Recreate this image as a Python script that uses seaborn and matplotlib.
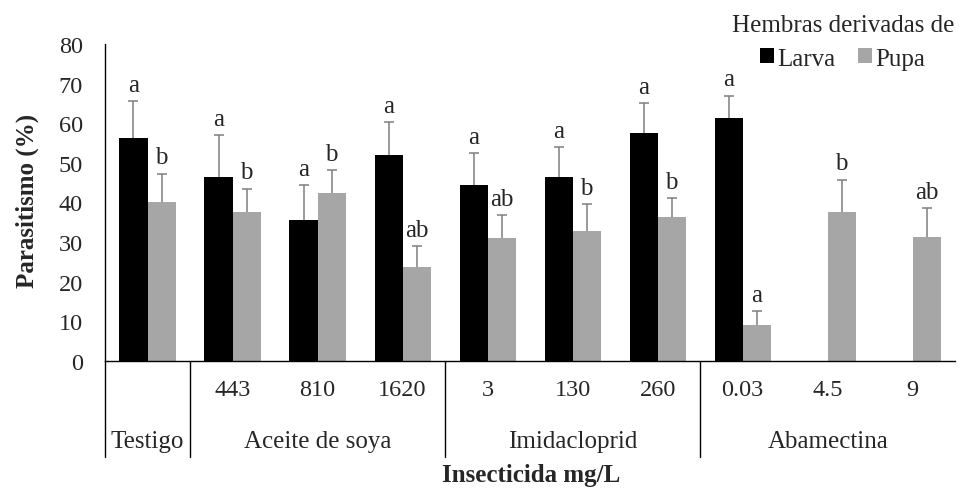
import numpy as np
import pandas as pd
import matplotlib
matplotlib.use("Agg")
import matplotlib.pyplot as plt
import matplotlib.transforms as mtransforms
from matplotlib.patches import Patch
import seaborn as sns

# ---------------- data ----------------
categories = ["Testigo", "443", "810", "1620", "3", "130", "260", "0.03", "4.5", "9"]
tick_labels = ["", "443", "810", "1620", "3", "130", "260", "0.03", "4.5", "9"]
groups = ["Testigo", "Aceite de soya", "Imidacloprid", "Abamectina"]
group_sizes = [1, 3, 3, 3]

larva_mean = [56.4, 46.4, 35.6, 52.0, 44.5, 46.4, 57.6, 61.3, np.nan, np.nan]
larva_err = [9.2, 10.7, 8.9, 8.4, 8.0, 7.5, 7.4, 5.7, np.nan, np.nan]
larva_letters = ["a", "a", "a", "a", "a", "a", "a", "a", "", ""]

pupa_mean = [40.2, 37.6, 42.5, 23.6, 31.0, 32.7, 36.4, 9.2, 37.6, 31.2]
pupa_err = [7.1, 5.9, 5.6, 5.3, 5.9, 6.9, 4.8, 3.3, 8.2, 7.4]
pupa_letters = ["b", "b", "b", "ab", "ab", "b", "b", "a", "b", "ab"]

series = ["Larva", "Pupa"]
colors = {"Larva": "#000000", "Pupa": "#A6A6A6"}

df = pd.DataFrame({
    "Insecticida": categories * 2,
    "Serie": ["Larva"] * len(categories) + ["Pupa"] * len(categories),
    "Valor": larva_mean + pupa_mean,
    "Err": larva_err + pupa_err,
    "Letra": larva_letters + pupa_letters,
})

# ---------------- plot ----------------
sns.set_style("white")
plt.rcParams["font.family"] = ["Liberation Serif", "DejaVu Serif"]

fig = plt.figure(figsize=(9.59, 4.89), dpi=100)
ax = fig.add_axes([0.1095, 0.2597, 0.8865, 0.6483])

plot_df = df.dropna(subset=["Valor"])
sns.barplot(data=plot_df, x="Insecticida", y="Valor", hue="Serie",
            order=categories, hue_order=series, palette=colors,
            width=0.66, errorbar=None, saturation=1, ax=ax, legend=False,
            linewidth=0, edgecolor="none")

ecol = "#7F7F7F"
# error bars (upper only) and letters
for cont, s in zip(ax.containers, series):
    sub = df[df["Serie"] == s].set_index("Insecticida")
    for bar in cont:
        xc = bar.get_x() + bar.get_width() / 2
        cat = categories[int(round(xc))]
        row = sub.loc[cat]
        if np.isnan(row["Valor"]):
            continue
        top = row["Valor"] + row["Err"]
        ax.plot([xc, xc], [row["Valor"], top], color=ecol, linewidth=1.1,
                solid_capstyle="butt")
        ax.plot([xc], [top], marker="_", markersize=7, markeredgewidth=1.1,
                color=ecol)
        ax.text(xc, top + 1.3, row["Letra"], ha="center", va="bottom",
                fontsize=18)

ax.set_ylim(0, 80)
ax.set_xlim(-0.5, len(categories) - 0.5)
ax.set_yticks(np.arange(0, 81, 10))
ax.tick_params(axis="y", length=0, labelsize=17.5, pad=16)
ax.set_xticks(range(len(categories)))
ax.set_xticklabels(tick_labels, fontsize=17.5)
ax.tick_params(axis="x", length=0, pad=13)
ax.set_xlabel("")
ax.set_ylabel("")

for side in ["top", "right"]:
    ax.spines[side].set_visible(False)
for side in ["left", "bottom"]:
    ax.spines[side].set_color("#000000")
    ax.spines[side].set_linewidth(1.0)

# multi-level category separators and group labels
trans = mtransforms.blended_transform_factory(ax.transData, ax.transAxes)
edges = np.concatenate([[0], np.cumsum(group_sizes)]) - 0.5
for e in edges[:-1]:
    ax.plot([e, e], [0, -0.303], transform=trans, color="#000000",
            linewidth=1.0, clip_on=False)
for g, a, b in zip(groups, edges[:-1], edges[1:]):
    ax.text((a + b) / 2, -0.252, g, transform=trans, ha="center",
            va="center", fontsize=18)

# axis titles
fig.text(0.554, 0.027, "Insecticida mg/L", ha="center", va="center",
         fontsize=18, fontweight="bold")
fig.text(0.028, 0.589, "Parasitismo (%)", ha="center", va="center",
         rotation=90, fontsize=18, fontweight="bold")

# legend
handles = [Patch(facecolor=colors[s], edgecolor="none", label=s) for s in series]
leg = fig.legend(handles=handles, title="Hembras derivadas de", ncol=2,
                 loc="upper right", bbox_to_anchor=(1.0, 0.979), frameon=False,
                 fontsize=18, title_fontsize=18, handlelength=0.55,
                 handleheight=0.55, handletextpad=0.15, columnspacing=0.9,
                 borderaxespad=0.1, labelspacing=0.45, borderpad=0.1)

fig.savefig("out.png", dpi=100)
